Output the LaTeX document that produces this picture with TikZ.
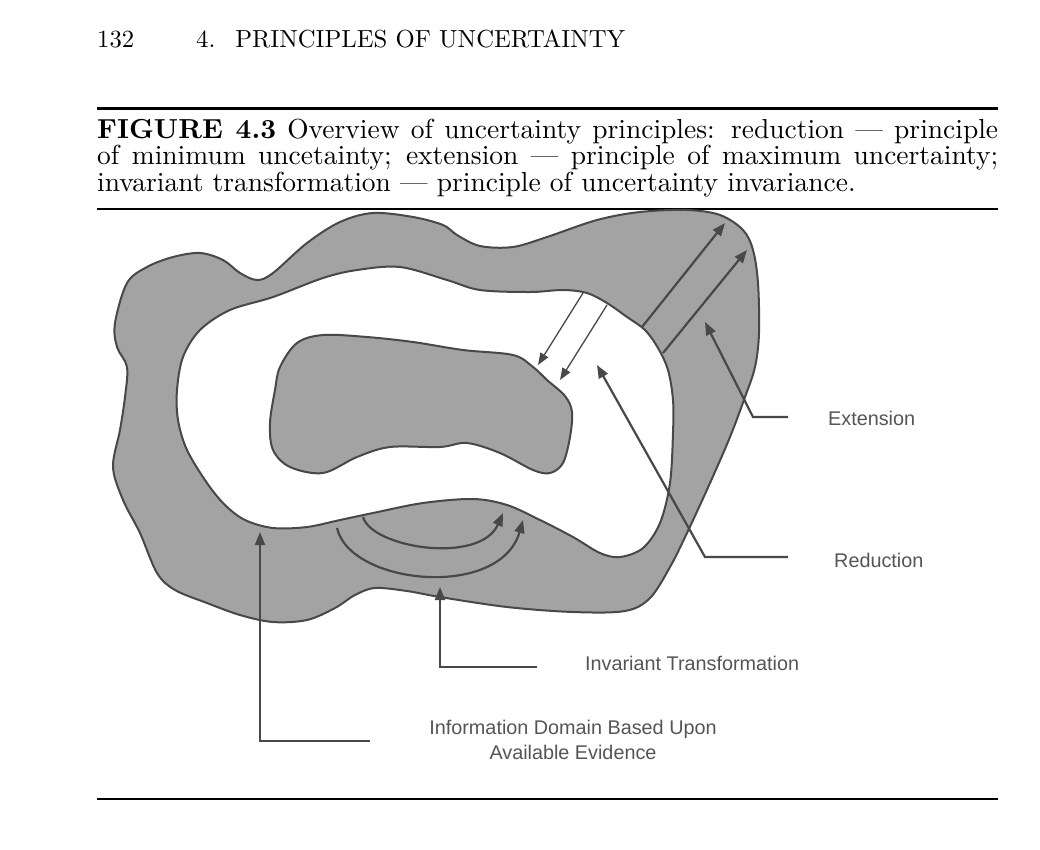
\documentclass[tikz,border=0pt]{standalone}
\usepackage{fontspec}
\setmainfont{lmroman10-regular.otf}[BoldFont=lmroman10-bold.otf]
\usetikzlibrary{arrows.meta}
\newfontfamily\labfont{Liberation Sans}
\definecolor{regiongray}{RGB}{163,163,163}
\definecolor{edgegray}{RGB}{72,72,72}
\definecolor{labgray}{RGB}{85,85,85}
\tikzset{
  region/.style={draw=edgegray, line width=2pt},
  ptr/.style={draw=edgegray, line width=2.2pt, -{Triangle[length=13pt,width=10pt]}},
  thinptr/.style={draw=edgegray, line width=1.3pt, -{Triangle[length=12pt,width=9pt]}},
  lab/.style={font=\labfont\fontsize{19.8}{25}\selectfont, text=labgray, inner sep=0pt},
  capline/.style={font=\fontsize{27.5}{26.5}\selectfont, anchor=base west, inner sep=0pt},
  headline/.style={font=\fontsize{24.7}{28}\selectfont, anchor=base west, inner sep=0pt},
  rulel/.style={draw=black}
}
\begin{document}
\begin{tikzpicture}[x=1pt,y=1pt]
\useasboundingbox (0,0) rectangle (1040,-849);
\fill[white] (0,0) rectangle (1040,-849);
% header
\node[headline] (pg) at (97,-47) {132};
\node[headline] (hd) at (196,-47) {4.\hspace{20pt}PRINCIPLES OF UNCERTAINTY};
% rules
\draw[rulel, line width=3pt] (97,-108) -- (998,-108);
\draw[rulel, line width=2pt] (97,-209) -- (998,-209);
\draw[rulel, line width=2pt] (97,-799) -- (998,-799);
% caption
\node[capline] (c1) at (97,-138) {\hbox to 901pt{\textbf{FIGURE 4.3} Overview of uncertainty principles: reduction --- principle}};
\node[capline] (c2) at (97,-164.5) {\hbox to 901pt{of minimum uncetainty; extension --- principle of maximum uncertainty;}};
\node[capline] (c3) at (97,-191) {invariant transformation --- principle of uncertainty invariance.};
% outer region
\filldraw[region, fill=regiongray] plot[smooth cycle, tension=0.55] coordinates {
(115,-323) (127,-283) (147,-267) (173,-257) (200,-253) (223,-260) (240,-273) (257,-280) (273,-273) (307,-243) (340,-222) (373,-213) (413,-217) (443,-225) (457,-235) (480,-246) (513,-247) (547,-237) (597,-220) (640,-212) (687,-210) (720,-215) (743,-230) (753,-250) (758,-283) (759,-333) (755,-367) (745,-397) (730,-437) (710,-483) (687,-533) (670,-567) (650,-598) (625,-611) (573,-612) (507,-607) (440,-597) (407,-591) (375,-588) (355,-595) (335,-608) (307,-620) (273,-622) (240,-615) (207,-603) (175,-590) (157,-573) (140,-533) (123,-500) (113,-467) (120,-430) (125,-397) (127,-367) (117,-347)};
% white region
\filldraw[region, fill=white] plot[smooth cycle, tension=0.55] coordinates {
(177,-390) (183,-357) (200,-330) (230,-310) (273,-297) (323,-278) (357,-270) (400,-267) (447,-280) (480,-290) (530,-292) (563,-290) (587,-293) (607,-303) (627,-317) (645,-330) (658,-348) (668,-370) (673,-400) (673,-433) (670,-483) (660,-523) (643,-548) (620,-557) (600,-553) (573,-537) (540,-520) (507,-505) (473,-499) (423,-503) (373,-513) (340,-520) (307,-527) (273,-528) (245,-520) (225,-505) (207,-483) (187,-450) (178,-420)};
% inner blob
\filldraw[region, fill=regiongray] plot[smooth cycle, tension=0.55] coordinates {
(275,-390) (280,-367) (297,-343) (323,-335) (367,-337) (413,-342) (463,-350) (513,-355) (533,-367) (547,-380) (565,-396) (572,-412) (570,-437) (563,-463) (550,-473) (533,-470) (500,-453) (467,-443) (440,-447) (390,-447) (357,-457) (323,-473) (290,-467) (273,-450) (270,-423)};
% coordinates
\coordinate (e1s) at (642,-327); \coordinate (e1t) at (725,-223);
\coordinate (e2s) at (663,-353); \coordinate (e2t) at (747,-250);
\coordinate (r1s) at (583,-293); \coordinate (r1t) at (538,-365);
\coordinate (r2s) at (607,-305); \coordinate (r2t) at (560,-380);
\coordinate (extt) at (705,-322); \coordinate (extk) at (753,-417); \coordinate (exte) at (788,-417);
\coordinate (redt) at (597,-365); \coordinate (redk) at (705,-557); \coordinate (rede) at (788,-557);
\coordinate (inft) at (260,-532); \coordinate (infk) at (260,-741); \coordinate (infe) at (370,-741);
\coordinate (invt) at (440,-587); \coordinate (invk) at (440,-667); \coordinate (inve) at (537,-667);
\coordinate (a1s) at (363,-517); \coordinate (a1t) at (503,-513);
\coordinate (a2s) at (337,-528); \coordinate (a2t) at (523,-520);
% arrows
\draw[ptr] (e1s) -- (e1t);
\draw[ptr] (e2s) -- (e2t);
\draw[thinptr] (r1s) -- (r1t);
\draw[thinptr] (r2s) -- (r2t);
\draw[ptr] (a1s) .. controls (372,-548) and (480,-565) .. (a1t);
\draw[ptr] (a2s) .. controls (350,-585) and (500,-600) .. (a2t);
% leaders
\draw[ptr] (exte) -- (extk) -- (extt);
\draw[ptr] (rede) -- (redk) -- (redt);
\draw[ptr] (infe) -- (infk) -- (inft);
\draw[ptr] (inve) -- (invk) -- (invt);
% labels
\node[lab, anchor=west] (lext) at (828,-418) {Extension};
\node[lab, anchor=west] (lred) at (834,-560) {Reduction};
\node[lab, anchor=west] (linv) at (585,-663) {Invariant Transformation};
\node[lab, align=center] (linf) at (573,-740) {Information Domain Based Upon\\Available Evidence};
\end{tikzpicture}
\end{document}
